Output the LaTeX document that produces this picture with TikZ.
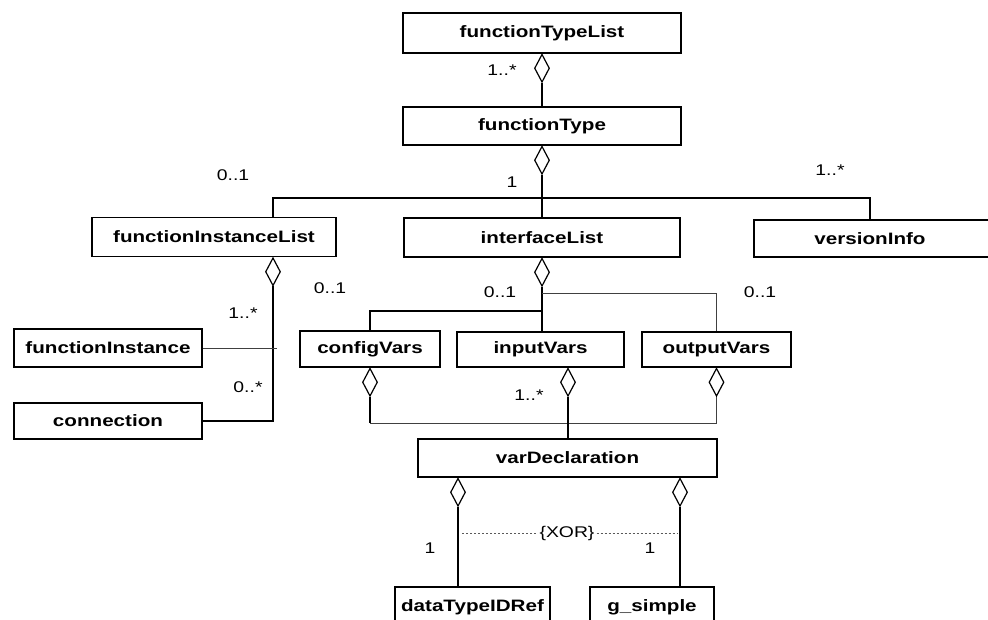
\documentclass[tikz,border=0pt]{standalone}
\usepackage{fontspec}
\setmainfont[FakeStretch=1.25]{Liberation Sans}
\usetikzlibrary{shapes.geometric}
\begin{document}
\begin{tikzpicture}[x=1pt,y=-1pt,
  cls/.style={draw,line width=1.3pt,inner sep=0pt,font=\fontsize{16.5}{19}\selectfont\bfseries},
  agg/.style={shape=diamond,draw,line width=1.2pt,fill=white,minimum width=15pt,minimum height=28pt,inner sep=0pt,anchor=north},
  ln/.style={line width=1.3pt},
  lnthin/.style={line width=0.9pt,black!75},
  mult/.style={inner sep=0pt,font=\fontsize{15.5}{18}\selectfont}]
\useasboundingbox (0,0) rectangle (988,620);
% classes
\node[cls,minimum width=278pt,minimum height=40pt] (ftl) at (542,33) {functionTypeList};
\node[cls,minimum width=278pt,minimum height=38pt] (ft) at (542,126) {functionType};
\node[cls,minimum width=244pt,minimum height=39pt] (fil) at (214,237) {functionInstanceList};
\node[cls,minimum width=276pt,minimum height=39pt] (il) at (542,237.5) {interfaceList};
\node[cls,minimum width=250pt,minimum height=37pt] (vi) at (879,238.5) {\hspace*{-18pt}versionInfo};
\node[cls,minimum width=188pt,minimum height=38pt] (fi) at (108,348) {functionInstance};
\node[cls,minimum width=188pt,minimum height=36pt] (con) at (108,421) {connection};
\node[cls,minimum width=140pt,minimum height=36pt] (cv) at (370,349) {configVars};
\node[cls,minimum width=167pt,minimum height=35pt] (iv) at (540.5,349.5) {inputVars};
\node[cls,minimum width=149pt,minimum height=35pt] (ov) at (716.5,349.5) {outputVars};
\node[cls,minimum width=299pt,minimum height=38pt] (vd) at (567.5,458) {varDeclaration};
\node[cls,minimum width=155pt,minimum height=40pt] (dt) at (472.5,607) {dataTypeIDRef};
\node[cls,minimum width=124pt,minimum height=40pt] (gs) at (652,607) {g\_simple};
% aggregation diamonds
\node[agg] (d1) at (ftl.south) {};
\node[agg] (d2) at (ft.south) {};
\coordinate (c1) at (273,198);
\coordinate (c2) at (870,198);
\coordinate (h1) at (542,198);
\node[agg] (d3) at (c1 |- fil.south) {};
\node[agg] (d4) at (il.south) {};
\coordinate (civ) at (568,0);
\node[agg] (d5) at (civ |- iv.south) {};
\node[agg] (d6) at (cv.south) {};
\node[agg] (d7) at (ov.south) {};
\coordinate (cdl) at (458,0);
\coordinate (cdr) at (680,0);
\node[agg] (d8) at (cdl |- vd.south) {};
\node[agg] (d9) at (cdr |- vd.south) {};
% connectors
\draw[ln] (d1.south) -- (ft.north);
\draw[ln] (d2.south) -- (h1);
\draw[ln] (c1 |- fil.north) -- (c1) -- (c2) -- (c2 |- vi.north);
\draw[ln] (h1) -- (h1 |- il.north);
\draw[ln] (d3.south) |- (con.east);
\draw[lnthin] (fi.east) -- ++(74,0);
\coordinate (j2) at (542,311);
\coordinate (j3) at (542,293);
\draw[ln] (d4.south) -- (d4.south |- iv.north);
\draw[ln] (j2) -| (cv.north);
\draw[lnthin] (j3) -| (ov.north);
\coordinate (j4) at (370,423);
\draw[ln] (d6.south) -- (j4);
\draw[lnthin] (j4) -| (d7.south);
\draw[ln] (d5.south) -- (d5.south |- vd.north);
\draw[ln] (d8.south) -- (d8.south |- dt.north);
\draw[ln] (d9.south) -- (d9.south |- gs.north);
% XOR constraint
\node[mult,fill=white,inner xsep=2pt] (xor) at (567,533) {\{XOR\}};
\coordinate (xl) at (462,533);
\coordinate (xr) at (678,533);
\draw[line width=0.9pt,black!65,dash pattern=on 2pt off 2pt] (xl) -- (xor.west);
\draw[line width=0.9pt,black!65,dash pattern=on 2pt off 2pt] (xor.east) -- (xr);
% multiplicities
\node[mult] (m1) at (502,70) {1..*};
\node[mult] (m2) at (512,182) {1};
\node[mult] (m3) at (233,175) {0..1};
\node[mult] (m4) at (830,170) {1..*};
\node[mult] (m5) at (330,288) {0..1};
\node[mult] (m6) at (500,292) {0..1};
\node[mult] (m7) at (760,292) {0..1};
\node[mult] (m8) at (243,313) {1..*};
\node[mult] (m9) at (248,387) {0..*};
\node[mult] (m10) at (529,395) {1..*};
\node[mult] (m11) at (430,548) {1};
\node[mult] (m12) at (650,548) {1};
\end{tikzpicture}
\end{document}
